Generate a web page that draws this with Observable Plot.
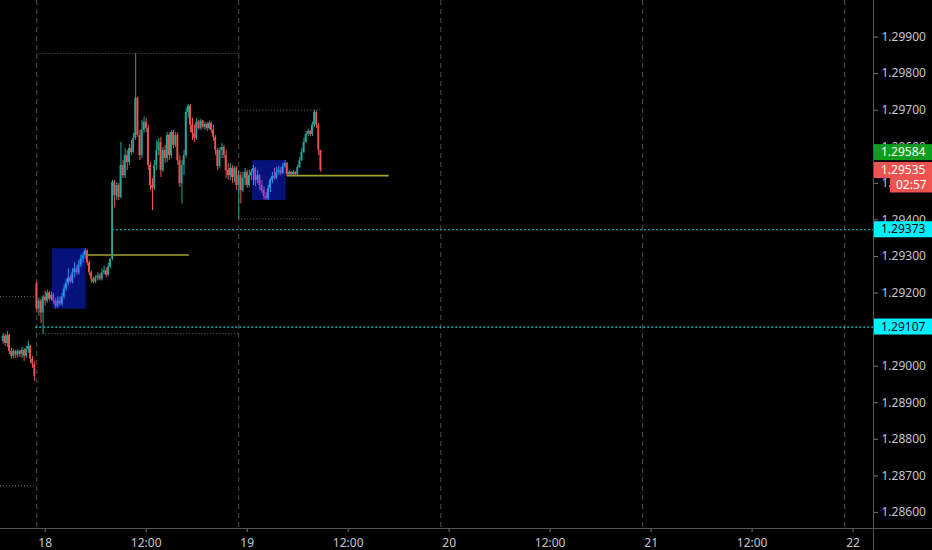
<!DOCTYPE html>
<html><head><meta charset="utf-8">
<script src="https://cdn.jsdelivr.net/npm/d3@7"></script>
<script src="https://cdn.jsdelivr.net/npm/@observablehq/plot@0.6"></script>
<style>html,body{margin:0;padding:0;background:#000;overflow:hidden}#chart{width:932px;height:550px}</style>
</head><body><div id="chart"></div>
<script>
// 15-minute bars, indexed in trading order (weekend gap removed)
const open = [
1.29068,1.29082,1.29062,1.29084,1.29040,1.29027,1.29040,1.29030,1.29040,1.29032,1.29043,1.29027,1.29046,1.29054,1.29019,1.29005,
1.29225,1.29156,1.29178,1.29145,1.29189,1.29178,1.29200,1.29183,1.29194,1.29178,
1.29164,1.29178,1.29170,1.29189,1.29211,1.29227,1.29241,1.29230,1.29255,1.29266,
1.29255,1.29277,1.29293,1.29302,1.29315,1.29282,1.29255,1.29238,1.29230,1.29241,
1.29247,1.29238,1.29255,1.29260,1.29249,1.29271,1.29293,1.29502,1.29466,1.29494,
1.29461,1.29549,1.29521,1.29576,1.29557,1.29595,1.29584,1.29623,1.29733,1.29631,
1.29576,1.29645,1.29667,1.29650,1.29549,1.29494,1.29486,1.29549,1.29590,1.29612,
1.29535,1.29590,1.29568,1.29631,1.29576,1.29639,1.29604,1.29631,1.29562,1.29499,
1.29549,1.29576,1.29694,1.29711,1.29659,1.29637,1.29623,1.29667,1.29650,1.29670,
1.29653,1.29661,1.29650,1.29664,1.29645,1.29626,1.29590,1.29546,1.29590,1.29598,
1.29576,1.29535,1.29521,1.29541,1.29516,1.29541,1.29494,1.29521,1.29480,1.29513,
1.29530,1.29494,1.29521,1.29530,1.29541,1.29508,1.29521,1.29494,1.29480,1.29464,
1.29458,1.29486,1.29508,1.29519,1.29513,1.29530,1.29535,1.29527,1.29546,1.29554,
1.29524,1.29530,1.29524,1.29530,1.29524,1.29543,1.29562,1.29584,1.29612,1.29634,
1.29642,1.29634,1.29659,1.29694,1.29659,1.29590];
const high = [
1.29090,1.29087,1.29095,1.29087,1.29049,1.29046,1.29043,1.29046,1.29043,1.29051,1.29049,1.29054,1.29068,1.29057,1.29027,1.29013,
1.29230,1.29186,1.29183,1.29194,1.29205,1.29208,1.29205,1.29203,1.29200,1.29186,
1.29189,1.29189,1.29200,1.29222,1.29238,1.29266,1.29247,1.29266,1.29282,1.29274,
1.29288,1.29304,1.29310,1.29321,1.29318,1.29288,1.29260,1.29244,1.29247,1.29255,
1.29252,1.29266,1.29274,1.29269,1.29282,1.29293,1.29508,1.29508,1.29502,1.29499,
1.29612,1.29562,1.29595,1.29590,1.29606,1.29617,1.29637,1.29855,1.29736,1.29645,
1.29672,1.29681,1.29678,1.29659,1.29557,1.29513,1.29562,1.29617,1.29623,1.29626,
1.29598,1.29604,1.29639,1.29637,1.29645,1.29645,1.29639,1.29637,1.29576,1.29562,
1.29590,1.29705,1.29716,1.29716,1.29678,1.29659,1.29678,1.29672,1.29675,1.29672,
1.29667,1.29667,1.29670,1.29667,1.29659,1.29631,1.29595,1.29598,1.29609,1.29604,
1.29590,1.29554,1.29554,1.29549,1.29546,1.29546,1.29535,1.29530,1.29530,1.29541,
1.29535,1.29535,1.29538,1.29549,1.29543,1.29535,1.29524,1.29508,1.29491,1.29475,
1.29494,1.29513,1.29530,1.29541,1.29543,1.29546,1.29543,1.29554,1.29562,1.29557,
1.29535,1.29532,1.29535,1.29532,1.29549,1.29571,1.29595,1.29623,1.29642,1.29648,
1.29645,1.29667,1.29700,1.29697,1.29664,1.29590];
const low = [
1.29060,1.29054,1.29051,1.29032,1.29019,1.29021,1.29021,1.29024,1.29024,1.29021,1.29013,1.29021,1.29035,1.29008,1.28994,1.28958,
1.29145,1.29137,1.29117,1.29087,1.29164,1.29172,1.29178,1.29178,1.29170,1.29156,
1.29159,1.29164,1.29164,1.29183,1.29205,1.29219,1.29225,1.29225,1.29241,1.29249,
1.29249,1.29269,1.29282,1.29293,1.29274,1.29247,1.29227,1.29225,1.29225,1.29233,
1.29233,1.29233,1.29249,1.29241,1.29244,1.29266,1.29288,1.29433,1.29453,1.29453,
1.29458,1.29513,1.29513,1.29535,1.29549,1.29576,1.29582,1.29617,1.29626,1.29562,
1.29568,1.29637,1.29639,1.29535,1.29480,1.29425,1.29480,1.29535,1.29576,1.29516,
1.29530,1.29554,1.29557,1.29562,1.29568,1.29595,1.29598,1.29549,1.29488,1.29444,
1.29521,1.29568,1.29678,1.29639,1.29617,1.29612,1.29617,1.29645,1.29645,1.29648,
1.29645,1.29642,1.29645,1.29637,1.29615,1.29576,1.29535,1.29541,1.29568,1.29568,
1.29513,1.29508,1.29508,1.29499,1.29502,1.29480,1.29403,1.29444,1.29475,1.29494,
1.29486,1.29488,1.29508,1.29494,1.29491,1.29499,1.29480,1.29472,1.29455,1.29453,
1.29453,1.29475,1.29499,1.29508,1.29510,1.29521,1.29521,1.29524,1.29541,1.29519,
1.29519,1.29519,1.29521,1.29519,1.29521,1.29541,1.29560,1.29582,1.29609,1.29628,
1.29628,1.29628,1.29653,1.29650,1.29576,1.29530];
const close = [
1.29082,1.29062,1.29084,1.29040,1.29027,1.29040,1.29030,1.29040,1.29032,1.29043,1.29027,1.29046,1.29054,1.29019,1.29005,1.28972,
1.29156,1.29178,1.29145,1.29189,1.29178,1.29200,1.29183,1.29194,1.29178,1.29164,
1.29178,1.29170,1.29189,1.29211,1.29227,1.29241,1.29230,1.29255,1.29266,1.29255,
1.29277,1.29293,1.29302,1.29315,1.29282,1.29255,1.29238,1.29230,1.29241,1.29247,
1.29238,1.29255,1.29260,1.29249,1.29271,1.29293,1.29502,1.29466,1.29494,1.29461,
1.29549,1.29521,1.29576,1.29557,1.29595,1.29584,1.29623,1.29733,1.29631,1.29576,
1.29645,1.29667,1.29650,1.29549,1.29494,1.29486,1.29549,1.29590,1.29612,1.29535,
1.29590,1.29568,1.29631,1.29576,1.29639,1.29604,1.29631,1.29562,1.29499,1.29549,
1.29576,1.29694,1.29711,1.29659,1.29637,1.29623,1.29667,1.29650,1.29670,1.29653,
1.29661,1.29650,1.29664,1.29645,1.29626,1.29590,1.29546,1.29590,1.29598,1.29576,
1.29535,1.29521,1.29541,1.29516,1.29541,1.29494,1.29521,1.29480,1.29513,1.29530,
1.29494,1.29521,1.29530,1.29541,1.29508,1.29521,1.29494,1.29480,1.29464,1.29458,
1.29486,1.29508,1.29519,1.29513,1.29530,1.29535,1.29527,1.29546,1.29554,1.29524,
1.29530,1.29524,1.29530,1.29524,1.29543,1.29562,1.29584,1.29612,1.29634,1.29642,
1.29634,1.29659,1.29694,1.29659,1.29590,1.29535];

// time axis (bar index)
const tickBars   = [20, 68, 116, 164, 212, 260, 308, 356, 404];
const tickLabels = ["18", "12:00", "19", "12:00", "20", "12:00", "21", "12:00", "22"];
const sessionBars = [16, 112, 208, 304, 400];
const priceTicks = [1.286,1.287,1.288,1.289,1.290,1.291,1.292,1.293,1.294,1.295,1.296,1.297,1.298,1.299];

// session range boxes
const boxStart  = [23.5, 118.5];
const boxEnd    = [39.5, 134.5];
const boxTop    = [1.29321, 1.29562];
const boxBottom = [1.29156, 1.29453];

// olive lines after each box
const oliveStart = [40.5, 135];
const oliveEnd   = [88.5, 183.5];
const olivePrice = [1.29304, 1.29521];

// cyan horizontal levels
const cyanStart = [52, 15.5];
const cyanPrice = [1.29373, 1.29107];

// previous-day high / low dotted lines
const levelStart = [-1.25, -1.25, 16, 16, 112, 112];
const levelEnd   = [16, 16, 112, 112, 151, 151];
const levelPrice = [1.29190, 1.28673, 1.29855, 1.29089, 1.29700, 1.29403];

// right-scale badges
const badgeLabel = ["1.29584", "1.29535", "1.29373", "1.29107"];
const badgePrice = [1.29584, 1.29535, 1.29373, 1.29107];
const badgeFill  = ["#0b9e1c", "#ef5350", "#00f0ff", "#00f0ff"];
const badgeText  = ["#ffffff", "#ffffff", "#0c0c0c", "#0c0c0c"];
const countdown = "02:57";

const xMin = -1.25, xMax = 413.7;
const W = 932, H = 550, mR = 59, mB = 22;

const bars = open.map((o, i) => ({i, open: o, high: high[i], low: low[i], close: close[i]}));
const inBox = i => boxStart.some((s, k) => i > s && i < boxEnd[k]);
const candleColor = d => {
  const up = d.close >= d.open;
  if (inBox(d.i)) return up ? "#2196f3" : "#ab47bc";
  return up ? "#26a69a" : "#ef5350";
};
const boxes = boxStart.map((s, k) => ({x1: s, x2: boxEnd[k], y1: boxBottom[k], y2: boxTop[k]}));
const olives = oliveStart.map((s, k) => ({x1: s, x2: oliveEnd[k], y: olivePrice[k]}));
const cyans = cyanStart.map((s, k) => ({x1: s, x2: xMax, y: cyanPrice[k]}));
const levels = levelStart.map((s, k) => ({x1: s, x2: levelEnd[k], y: levelPrice[k]}));

const plot = Plot.plot({
  width: W, height: H,
  marginLeft: 0, marginRight: mR, marginTop: 0, marginBottom: mB,
  style: {background: "#000", color: "#c3c6ce", fontFamily: "Noto Sans", fontSize: "12px"},
  x: {type: "linear", domain: [xMin, xMax], axis: null},
  y: {domain: [1.28556, 1.30000], axis: null},
  marks: [
    Plot.ruleX(sessionBars, {x: d => d, stroke: "#4d4d4d", strokeDasharray: "5,4"}),
    Plot.rect(boxes, {x1: "x1", x2: "x2", y1: "y1", y2: "y2", fill: "#06127c"}),
    Plot.ruleY(levels, {x1: "x1", x2: "x2", y: "y", stroke: "#5a5a5a", strokeDasharray: "1,2", strokeWidth: 1.2}),
    Plot.ruleY(olives, {x1: "x1", x2: "x2", y: "y", stroke: "#a3a12e", strokeWidth: 1.6}),
    Plot.ruleY(cyans, {x1: "x1", x2: "x2", y: "y", stroke: "#2fc6d8", strokeDasharray: "2,2", strokeWidth: 1.2}),
    Plot.ruleX(bars, {x: "i", y1: "low", y2: "high", stroke: candleColor, strokeWidth: 1}),
    Plot.rect(bars, {x1: d => d.i - 0.42, x2: d => d.i + 0.42, y1: "open", y2: "close", fill: candleColor}),
    Plot.axisY(priceTicks, {anchor: "right", tickSize: 4, tickPadding: 4, tickFormat: d => d.toFixed(5), stroke: "#777", fill: "#c3c6ce"}),
    Plot.axisX(tickBars, {anchor: "bottom", tickSize: 4, tickPadding: 6, tickFormat: d => tickLabels[tickBars.indexOf(d)], stroke: "#777", fill: "#c3c6ce"})
  ]
});
document.getElementById("chart").append(plot);

const yS = plot.scale("y");
const svg = d3.select(plot);
const plotRight = W - mR, plotBottom = H - mB;
svg.append("line").attr("x1", 0).attr("x2", W).attr("y1", plotBottom + 0.5).attr("y2", plotBottom + 0.5).attr("stroke", "#555");
svg.append("line").attr("x1", plotRight + 0.5).attr("x2", plotRight + 0.5).attr("y1", 0).attr("y2", H).attr("stroke", "#555");
const g = svg.append("g").attr("font-family", "Noto Sans").attr("font-size", 12).attr("text-anchor", "start");
badgePrice.forEach((p, k) => {
  const yy = yS.apply(p);
  g.append("rect").attr("x", plotRight + 1).attr("y", yy - 8).attr("width", mR - 1).attr("height", 16).attr("fill", badgeFill[k]);
  g.append("text").attr("x", plotRight + 8).attr("y", yy).attr("dy", "0.35em").attr("text-anchor", "start").attr("fill", badgeText[k]).text(badgeLabel[k]);
});
{
  const yy = yS.apply(badgePrice[1]) + 15;
  g.append("rect").attr("x", plotRight + 17).attr("y", yy - 7.5).attr("width", mR - 17).attr("height", 15).attr("fill", "#ef5350");
  g.append("text").attr("x", plotRight + 23).attr("y", yy).attr("dy", "0.35em").attr("text-anchor", "start").attr("fill", "#ffffff").text(countdown);
}
</script></body></html>
